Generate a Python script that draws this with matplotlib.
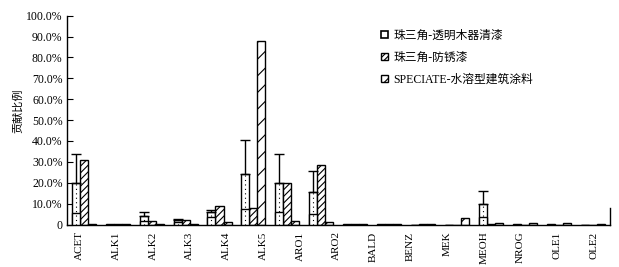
import numpy as np
import matplotlib
matplotlib.use("Agg")
import matplotlib.pyplot as plt
from matplotlib.patches import Patch

plt.rcParams['font.family'] = ['Liberation Serif', 'Noto Sans CJK SC']
plt.rcParams['hatch.linewidth'] = 0.8

# tick labels shown under the axis (15 labels)
labels = ['ACET', 'ALK1', 'ALK2', 'ALK3', 'ALK4', 'ALK5', 'ARO1', 'ARO2',
          'BALD', 'BENZ', 'MEK', 'MEOH', 'NROG', 'OLE1', 'OLE2']
# bar groups (16 slots as drawn)
n_slots = 16
series_names = ['珠三角-透明木器清漆', '珠三角-防锈漆', 'SPECIATE-水溶型建筑涂料']
s1 = [20.0, 0.2, 4.2, 2.2, 5.8, 24.0, 20.0, 15.5, 0.2, 0.1, 0.0, 0.0, 9.8, 0.2, 0.1, 0.0]
s1_low = [5.6, 0.0, 1.5, 1.0, 3.5, 7.5, 5.8, 5.0, 0.0, 0.0, 0.0, 0.0, 3.5, 0.0, 0.0, 0.0]
s1_top = [33.9, 0.0, 5.8, 2.6, 7.0, 40.3, 34.0, 25.7, 0.0, 0.0, 0.0, 0.0, 16.0, 0.0, 0.0, 0.0]
s2 = [31.0, 0.2, 1.8, 2.0, 8.8, 7.8, 20.0, 28.7, 0.2, 0.1, 0.2, 0.0, 0.1, 0.0, 0.0, 0.0]
s3 = [0.3, 0.2, 0.1, 0.3, 1.2, 88.0, 1.8, 1.2, 0.2, 0.1, 0.1, 3.2, 0.9, 0.8, 0.6, 0.3]

W, H = 619, 267
fig = plt.figure(figsize=(W / 100, H / 100), dpi=100)
ax = fig.add_axes([66.7 / W, 1 - 224.5 / H, (610 - 66.7) / W, (224.5 - 15.7) / H])

x = np.arange(n_slots)
bw = 0.236
lw = 1.0
ax.bar(x - bw, s1, bw, color='white', edgecolor='black', linewidth=lw, zorder=2)
ax.bar(x - bw, s1_low, bw, color='white', edgecolor='black', linewidth=lw, zorder=3)
ax.vlines(x - bw, 0, s1, colors='black', linestyles=(0, (1, 3)), linewidth=0.8, zorder=4)
s1a = np.array(s1)
topa = np.array(s1_top)
m = topa > s1a
ax.errorbar((x - bw)[m], s1a[m], yerr=[np.zeros(m.sum()), (topa - s1a)[m]],
            fmt='none', ecolor='black', elinewidth=1.0, capsize=3.5, capthick=1.0, zorder=5)
ax.bar(x, s2, bw, color='white', edgecolor='black', hatch='/////', linewidth=lw, zorder=2)
ax.bar(x + bw, s3, bw, color='white', edgecolor='black', hatch='//', linewidth=lw, zorder=2)

ax.set_xlim(-0.5, n_slots - 0.5)
ax.set_ylim(0, 100)
yt = np.arange(0, 101, 10)
ax.set_yticks(yt)
ax.set_yticklabels(['0'] + ['%.1f%%' % v for v in yt[1:]])
ax.tick_params(axis='y', direction='in', length=4, width=0.8, pad=3, labelsize=8.5)
lab_pos = np.linspace(-0.12, 15.03, len(labels))
ax.set_xticks(lab_pos)
ax.set_xticklabels(labels, rotation=90, fontsize=8)
ax.tick_params(axis='x', length=0, pad=5)

ax.spines['top'].set_visible(False)
ax.spines['right'].set_bounds(0, 8)
for s in ['left', 'bottom', 'right']:
    ax.spines[s].set_linewidth(1.0)

fig.text(18 / W, 1 - 111 / H, '贡献比例', rotation=90, ha='center', va='center', fontsize=8)

handles = [Patch(facecolor='white', edgecolor='black', linewidth=1.2),
           Patch(facecolor='white', edgecolor='black', hatch='//////', linewidth=1.0),
           Patch(facecolor='white', edgecolor='black', hatch='//', linewidth=1.0)]
fig.legend(handles, series_names, loc='upper left', bbox_to_anchor=(376 / W, 1 - 25 / H),
           frameon=False, fontsize=8.5, handlelength=0.6, handleheight=0.6,
           handletextpad=0.5, labelspacing=0.85, borderaxespad=0)

fig.savefig('out.png', dpi=100)
